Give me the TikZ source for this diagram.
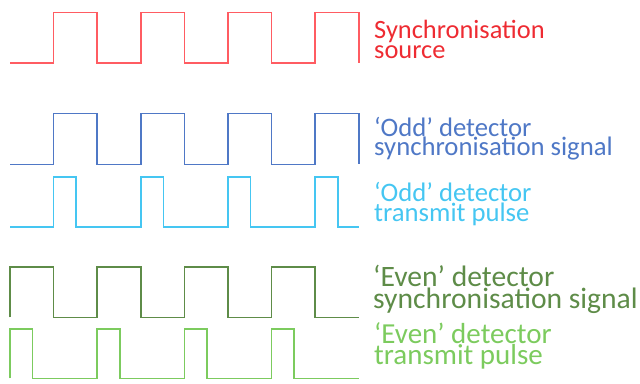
\documentclass[tikz,border=0pt]{standalone}
\usepackage{fontspec}
\setmainfont{Carlito}
\usetikzlibrary{positioning}
\definecolor{srcline}{HTML}{FF5C62}
\definecolor{srctext}{HTML}{EE2B32}
\definecolor{oddsync}{HTML}{4F78C6}
\definecolor{oddpulse}{HTML}{45C6F2}
\definecolor{evensync}{HTML}{5E8C48}
\definecolor{evenpulse}{HTML}{7CCB5E}
\tikzset{wave/.style={line width=1.6pt,line join=miter},
 lbl/.style={anchor=base west,align=left,inner sep=0pt}}

\begin{document}
\begin{tikzpicture}[x=1pt,y=-1pt]
\useasboundingbox (0,0) rectangle (640,383);

% synchronisation source
\draw[wave,srcline] (10,62.7) \foreach \k in {1,3,5,7}
 {-- ({10+43.6*\k},62.7) -- ({10+43.6*\k},12.3) -- ({10+43.6*(\k+1)},12.3) -- ({10+43.6*(\k+1)},62.7)};

% odd detector
\draw[wave,oddsync] (10,164.3) \foreach \k in {1,3,5,7}
 {-- ({10+43.6*\k},164.3) -- ({10+43.6*\k},113.5) -- ({10+43.6*(\k+1)},113.5) -- ({10+43.6*(\k+1)},164.3)};
\draw[wave,oddpulse] (10,226.7) \foreach \k in {1,3,5,7}
 {-- ({10+43.6*\k},226.7) -- ({10+43.6*\k},176.7) -- ({32.5+43.6*\k},176.7) -- ({32.5+43.6*\k},226.7)} -- (358.8,226.7);

% even detector
\draw[wave,evensync] (10,317.3) \foreach \k in {0,2,4,6}
 {-- ({10+43.6*\k},266.7) -- ({10+43.6*(\k+1)},266.7) -- ({10+43.6*(\k+1)},317.3) -- ({10+43.6*(\k+2)},317.3)};
\draw[wave,evenpulse] (10,378.3) \foreach \k in {0,2,4,6}
 {-- ({10+43.6*\k},328.7) -- ({32.5+43.6*\k},328.7) -- ({32.5+43.6*\k},378.3) -- ({10+43.6*(\k+2)},378.3)} -- (354,378.3);

% labels (base = last line)
\node[lbl,text=srctext,font=\fontsize{26.4}{20}\selectfont] (source) at (374,58.3) {Synchronisation\\source};
\node[lbl,text=oddsync,font=\fontsize{26.7}{19}\selectfont] (oddsig) at (374,155.5) {‘Odd’ detector\\synchronisation signal};
\node[lbl,text=oddpulse,font=\fontsize{26.7}{20}\selectfont] (oddtx) at (374,221.7) {‘Odd’ detector\\transmit pulse};
\node[lbl,text=evensync,font=\fontsize{29.6}{19}\selectfont] (evensig) at (373,308.3) {‘Even’ detector\\synchronisation signal};
\node[lbl,text=evenpulse,font=\fontsize{29}{18}\selectfont] (eventx) at (374,364.5) {‘Even’ detector\\transmit pulse};
\end{tikzpicture}
\end{document}
